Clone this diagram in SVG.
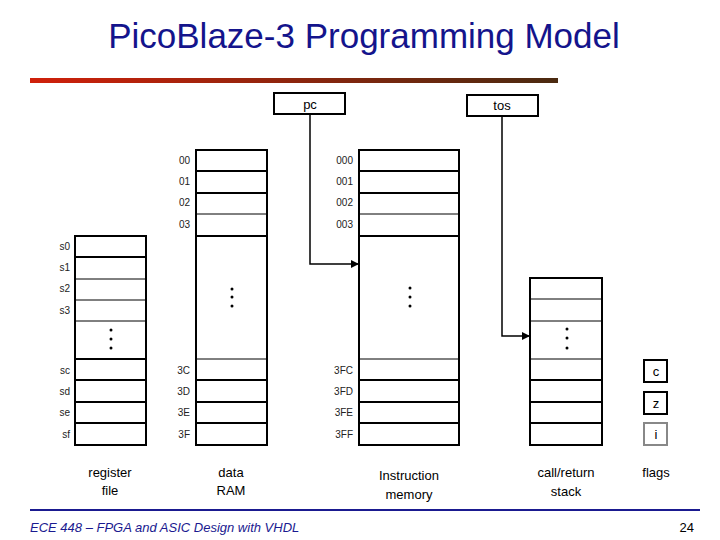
<svg xmlns="http://www.w3.org/2000/svg" width="720" height="540" viewBox="0 0 720 540">
<style>
.c{fill:#fff;stroke:#000;stroke-width:2}
.t{stroke:#000;stroke-width:1}
.k{stroke:#000;stroke-width:2}
.a{font-family:"Liberation Sans",Arial,sans-serif;font-size:10px;fill:#222;text-anchor:end}
.l{font-family:"Liberation Sans",Arial,sans-serif;font-size:13px;fill:#000;text-anchor:middle}
.d{fill:#000}
</style>
<defs>
<linearGradient id="g" x1="0" x2="1"><stop offset="0" stop-color="#d0200a"/><stop offset="1" stop-color="#4a2a10"/></linearGradient>
<marker id="ar" viewBox="0 0 10 10" refX="10" refY="5" markerWidth="8" markerHeight="8" markerUnits="userSpaceOnUse" orient="auto"><path d="M0,0L10,5L0,10z" fill="#000"/></marker>
</defs>
<rect width="720" height="540" fill="#fff"/>
<text x="364" y="48" font-family="'Liberation Sans',Arial,sans-serif" font-size="35" fill="#14148c" text-anchor="middle">PicoBlaze-3 Programming Model</text>
<rect x="30" y="78" width="528" height="5" fill="url(#g)"/>
<g id="regfile">
<rect class="c" x="75" y="236" width="71" height="209"/>
<path class="k" d="M75 257H146M75 359H146M75 380H146M75 402H146M75 423H146"/>
<path class="t" d="M75 279H146M75 300H146M75 321H146"/>
<circle class="d" cx="111" cy="330" r="1.5"/><circle class="d" cx="111" cy="339" r="1.5"/><circle class="d" cx="111" cy="348" r="1.5"/>
<text class="a" x="70" y="250">s0</text><text class="a" x="70" y="271">s1</text><text class="a" x="70" y="292">s2</text><text class="a" x="70" y="314">s3</text>
<text class="a" x="70" y="374">sc</text><text class="a" x="70" y="395">sd</text><text class="a" x="70" y="416">se</text><text class="a" x="70" y="438">sf</text>
<text class="l" x="110" y="477">register</text><text class="l" x="110" y="495">file</text>
</g>
<g id="dataram">
<rect class="c" x="196" y="150" width="71" height="295"/>
<path class="k" d="M196 171H267M196 193H267M196 236H267M196 380H267M196 402H267M196 423H267"/>
<path class="t" d="M196 214H267M196 359H267"/>
<circle class="d" cx="232" cy="289" r="1.5"/><circle class="d" cx="232" cy="297" r="1.5"/><circle class="d" cx="232" cy="306" r="1.5"/>
<text class="a" x="190" y="164">00</text><text class="a" x="190" y="185">01</text><text class="a" x="190" y="206">02</text><text class="a" x="190" y="228">03</text>
<text class="a" x="190" y="374">3C</text><text class="a" x="190" y="395">3D</text><text class="a" x="190" y="416">3E</text><text class="a" x="190" y="438">3F</text>
<text class="l" x="231" y="477">data</text><text class="l" x="231" y="495">RAM</text>
</g>
<g id="imem">
<rect class="c" x="359" y="150" width="100" height="295"/>
<path class="k" d="M359 171H459M359 193H459M359 236H459M359 380H459M359 402H459M359 423H459"/>
<path class="t" d="M359 214H459M359 359H459"/>
<circle class="d" cx="410" cy="288" r="1.5"/><circle class="d" cx="410" cy="297" r="1.5"/><circle class="d" cx="410" cy="306" r="1.5"/>
<text class="a" x="353" y="164">000</text><text class="a" x="353" y="185">001</text><text class="a" x="353" y="206">002</text><text class="a" x="353" y="228">003</text>
<text class="a" x="353" y="374">3FC</text><text class="a" x="353" y="395">3FD</text><text class="a" x="353" y="416">3FE</text><text class="a" x="353" y="438">3FF</text>
<text class="l" x="409" y="480">Instruction</text><text class="l" x="409" y="499">memory</text>
</g>
<g id="stack">
<rect class="c" x="530" y="278" width="72" height="167"/>
<path class="k" d="M530 380H602M530 402H602M530 423H602"/>
<path class="t" d="M530 299H602M530 321H602M530 359H602"/>
<circle class="d" cx="567" cy="329" r="1.5"/><circle class="d" cx="567" cy="338" r="1.5"/><circle class="d" cx="567" cy="348" r="1.5"/>
<text class="l" x="566" y="477">call/return</text><text class="l" x="566" y="496">stack</text>
</g>
<g id="pc"><rect class="c" x="274" y="93" width="71" height="21" stroke-width="1.5"/><text class="l" x="310" y="109">pc</text></g>
<g id="tos"><rect class="c" x="467" y="95" width="71" height="21"/><text class="l" x="502" y="110">tos</text></g>
<g id="flags">
<rect class="c" x="644" y="360" width="23" height="22"/><text class="l" x="656" y="376">c</text>
<rect class="c" x="644" y="392" width="23" height="22"/><text class="l" x="656" y="408">z</text>
<rect x="644" y="423" width="23" height="22" fill="#fff" stroke="#888" stroke-width="2"/><text class="l" x="656" y="439" fill="#999">i</text>
<text class="l" x="656" y="477">flags</text>
</g>
<g id="connectors" fill="none" stroke="#000" stroke-width="1.5">
<path d="M310 114V264H359" marker-end="url(#ar)"/>
<path d="M502 116V336H530" marker-end="url(#ar)"/>
</g>
<line x1="30" y1="510" x2="700" y2="510" stroke="#1a1a90" stroke-width="2"/>
<text x="30" y="532" font-family="'Liberation Sans',Arial,sans-serif" font-size="13" font-style="italic" fill="#1a1a90">ECE 448 – FPGA and ASIC Design with VHDL</text>
<text x="694" y="532" font-family="'Liberation Sans',Arial,sans-serif" font-size="13" fill="#000" text-anchor="end">24</text>
</svg>
